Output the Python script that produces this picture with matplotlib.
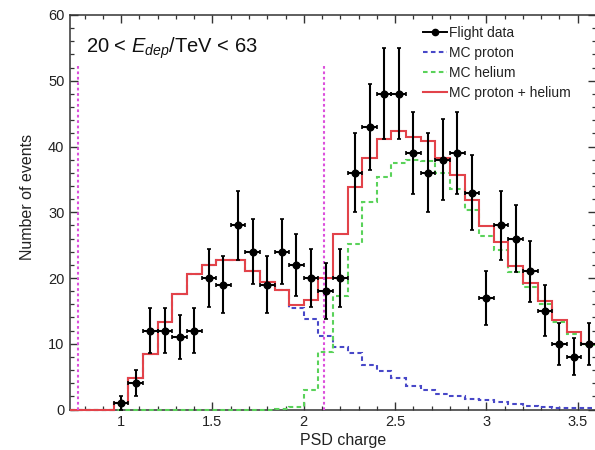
import numpy as np
import matplotlib
matplotlib.use("Agg")
import matplotlib.pyplot as plt
from matplotlib.lines import Line2D
from matplotlib.ticker import MultipleLocator, FixedLocator

plt.rcParams['font.family'] = ['Liberation Sans', 'DejaVu Sans']
plt.rcParams['mathtext.fontset'] = 'custom'
plt.rcParams['mathtext.rm'] = 'Liberation Sans'
plt.rcParams['mathtext.it'] = 'Liberation Sans:italic'

# ---------------- data ----------------
bin_low = 0.72
bin_width = 0.08
n_bins = 36

flight_counts = [0, 0, 0, 1, 4, 12, 12, 11, 12, 20, 19, 28, 24, 19, 24, 22, 20, 18,
                 20, 36, 43, 48, 48, 39, 36, 38, 39, 33, 17, 28, 26, 21, 15, 10, 8, 10]

mc_proton = [0, 0, 0, 1.0, 4.8, 8.5, 13.3, 17.5, 20.6, 22.0, 22.7, 22.7, 21.0, 19.4,
             18.1, 15.5, 13.7, 11.2, 9.5, 8.6, 6.7, 5.8, 4.8, 3.5, 3.0, 2.4, 2.0, 1.6,
             1.5, 1.1, 0.9, 0.6, 0.45, 0.3, 0.25, 0.25]

mc_helium = [0, 0, 0, 0, 0, 0, 0, 0, 0, 0, 0, 0, 0, 0,
             0.1, 0.4, 2.9, 8.8, 17.2, 25.2, 31.6, 35.4, 37.5, 38.0, 37.8, 35.9, 33.6,
             30.3, 26.4, 24.3, 20.9, 18.7, 16.1, 13.3, 11.5, 9.75]

cut_lines = [0.765, 2.11]
cut_top = 52.4

x_ticks = [1, 1.5, 2, 2.5, 3, 3.5]
x_ticklabels = ["1", "1.5", "2", "2.5", "3", "3.5"]
y_ticks = [0, 10, 20, 30, 40, 50, 60]

# ---------------- derived ----------------
edges = bin_low + bin_width * np.arange(n_bins + 1)
centers = 0.5 * (edges[:-1] + edges[1:])
counts = np.array(flight_counts, dtype=float)
proton = np.array(mc_proton)
helium = np.array(mc_helium)
total = proton + helium

# ---------------- figure ----------------
W, H = 595, 450
fig = plt.figure(figsize=(W / 100, H / 100), dpi=100)
ax_left, ax_right, ax_top, ax_bottom = 70, 596, 15, 409.5
ax = fig.add_axes([ax_left / W, 1 - ax_bottom / H, (ax_right - ax_left) / W,
                   (ax_bottom - ax_top) / H])

red = '#e2434a'
blue = '#4848c8'
green = '#5ad25a'
magenta = '#dc50dc'

ax.stairs(proton, edges, baseline=None, color=blue, lw=1.5,
          linestyle=(0, (2.2, 1.6)), zorder=2.6, clip_on=False)
ax.stairs(helium, edges, baseline=None, color=green, lw=1.5,
          linestyle=(0, (2.2, 1.6)), zorder=2.7, clip_on=False)
ax.stairs(total, edges, baseline=None, color=red, lw=1.5, zorder=2.8, clip_on=False)

for xc in cut_lines:
    ax.plot([xc, xc], [0, cut_top], color=magenta, lw=1.5,
            linestyle=(0, (1.3, 1.3)), zorder=2.9)

mask = counts > 0
ax.errorbar(centers[mask], counts[mask], yerr=np.sqrt(counts[mask]),
            xerr=bin_width / 2, fmt='o', color='black', ms=4.8, lw=1.5,
            elinewidth=1.5, capsize=1.2, capthick=1.2, zorder=3)

ax.set_xlim(edges[0], edges[-1])
ax.set_ylim(0, 60)
ax.xaxis.set_major_locator(FixedLocator(x_ticks))
ax.set_xticklabels(x_ticklabels)
ax.yaxis.set_major_locator(FixedLocator(y_ticks))
ax.xaxis.set_minor_locator(MultipleLocator(0.1))
ax.yaxis.set_minor_locator(MultipleLocator(2))
ax.tick_params(which='both', direction='in', top=True, right=True,
               colors='#333333', labelcolor='#222222')
ax.tick_params(which='major', length=6, width=1.0, labelsize=10.5, pad=4)
ax.tick_params(which='minor', length=3, width=0.9)
for sp in ax.spines.values():
    sp.set_color('#333333')
    sp.set_linewidth(1.1)

ax.set_xlabel('PSD charge', fontsize=11.5, color='#222222')
ax.set_ylabel('Number of events', fontsize=11.5, color='#222222')
ax.xaxis.set_label_coords((343 - ax_left) / (ax_right - ax_left),
                          -(441 - ax_bottom) / (ax_bottom - ax_top))
ax.yaxis.set_label_coords((28 - ax_left) / (ax_right - ax_left),
                          (ax_bottom - 196.5) / (ax_bottom - ax_top))
ax.xaxis.label.set_va('center')
ax.yaxis.label.set_va('center')

ax.text(86 / W, 1 - 52.7 / H, r'20 < $E_{dep}$/TeV < 63', transform=fig.transFigure,
        fontsize=14.5, ha='left', va='baseline', color='#111111')

handles = [
    Line2D([], [], color='black', lw=1.4, marker='o', ms=4.5),
    Line2D([], [], color=blue, lw=1.5, linestyle=(0, (2.2, 1.6))),
    Line2D([], [], color=green, lw=1.5, linestyle=(0, (2.2, 1.6))),
    Line2D([], [], color=red, lw=1.5),
]
labels = ['Flight data', 'MC proton', 'MC helium', 'MC proton + helium']
fig.legend(handles, labels, loc='upper left', bbox_to_anchor=(423 / W, 1 - 26 / H),
           frameon=False, fontsize=10, borderpad=0, borderaxespad=0,
           handlelength=1.75, handletextpad=0.15, labelspacing=0.42,
           labelcolor='#222222')

fig.savefig('out.png', dpi=100)
